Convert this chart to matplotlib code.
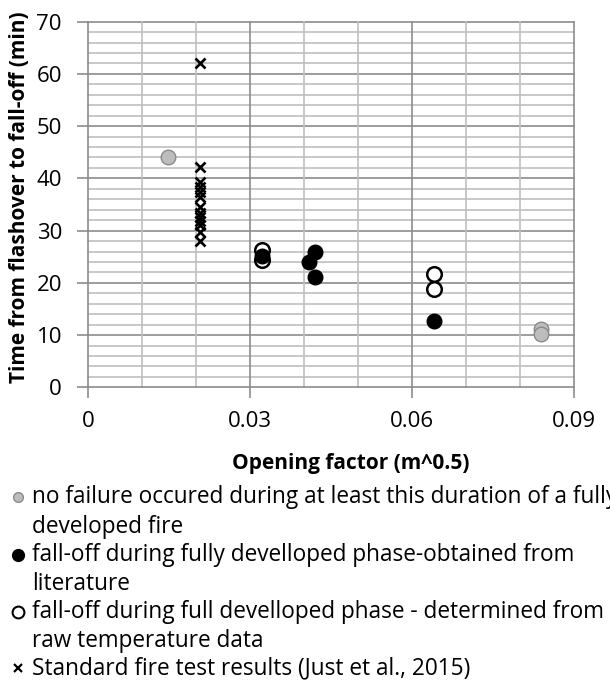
import matplotlib
matplotlib.use('Agg')
import matplotlib.pyplot as plt
from matplotlib.lines import Line2D
from matplotlib.ticker import FixedLocator

plt.rcParams['font.family'] = ['Open Sans', 'DejaVu Sans']

# no failure observed (lower bounds)
nofail_x = [0.0148, 0.0839, 0.0839]
nofail_y = [44.1, 11.1, 10.2]
# fall-off, fully developed phase, from literature
lit_x = [0.0321, 0.0409, 0.0420, 0.0420, 0.0640]
lit_y = [25.1, 24.0, 26.0, 21.1, 12.6]
# fall-off, fully developed phase, from raw temperature data
raw_x = [0.0321, 0.0321, 0.0640, 0.0640]
raw_y = [26.2, 24.4, 21.7, 18.9]
# standard fire tests (Just et al., 2015)
std_x = [0.0206] * 13
std_y = [62.1, 42.1, 39.4, 38.4, 37.4, 36.4, 34.5, 33.4, 32.6, 31.8, 31.0, 29.8, 28.1]

xticks = [0, 0.03, 0.06, 0.09]
xtick_labels = ['0', '0.03', '0.06', '0.09']
yticks = [0, 10, 20, 30, 40, 50, 60, 70]

legend_entries = [
    ('nofail', ['no failure occured during at least this duration of a fully',
                'developed fire']),
    ('lit', ['fall-off during fully develloped phase-obtained from',
             'literature']),
    ('raw', ['fall-off during full develloped phase - determined from',
             'raw temperature data']),
    ('std', ['Standard fire test results (Just et al., 2015)']),
]

major_c = '#8c8c8c'
minor_c = '#bfbfbf'
gray_fill = '#bdbdbd'
gray_edge = '#8a8a8a'

styles = {
    'nofail': dict(marker='o', ls='none', mfc=gray_fill, mec=gray_edge, mew=1.0),
    'lit': dict(marker='o', ls='none', mfc='black', mec='black', mew=1.0),
    'raw': dict(marker='o', ls='none', mfc='white', mec='black', mew=1.8),
    'std': dict(marker='x', ls='none', mec='black', mew=1.9),
}

fig = plt.figure(figsize=(6.1, 6.82), dpi=100)
ax = fig.add_axes([0.1448, 0.4321, 0.7967, 0.5361])

ax.set_xlim(0, 0.09)
ax.set_ylim(0, 70)

# gridlines: light every 2 min / 0.01, darker every 10 min / 0.03
for v in range(2, 72, 2):
    ax.axhline(v, color=major_c if v % 10 == 0 else minor_c, lw=1.2, zorder=0, clip_on=False)
for v in [0.01, 0.02, 0.03, 0.04, 0.05, 0.06, 0.07, 0.08, 0.09]:
    major = abs(v / 0.03 - round(v / 0.03)) < 1e-6
    ax.axvline(v, color=major_c if major else minor_c, lw=1.2, zorder=0, clip_on=False)

ax.plot(nofail_x, nofail_y, ms=10.5, zorder=3, clip_on=False, **styles['nofail'])
ax.plot(raw_x, raw_y, ms=10.5, zorder=3, clip_on=False, **styles['raw'])
ax.plot(lit_x, lit_y, ms=10.5, zorder=4, clip_on=False, **styles['lit'])
ax.plot(std_x, std_y, ms=7.2, zorder=5, clip_on=False, **styles['std'])

for s in ['top', 'right']:
    ax.spines[s].set_visible(False)
for s in ['left', 'bottom']:
    ax.spines[s].set_color(major_c)
    ax.spines[s].set_linewidth(1.2)

ax.xaxis.set_major_locator(FixedLocator(xticks))
ax.set_xticklabels(xtick_labels)
ax.yaxis.set_major_locator(FixedLocator(yticks))
ax.tick_params(axis='both', direction='out', length=8, width=1.2, color=major_c,
               labelsize=16, labelcolor='black')
ax.tick_params(axis='x', pad=9)
ax.tick_params(axis='y', pad=11)

fig.text(20 / 610, 1 - 197 / 682, 'Time from flashover to fall-off (min)',
         rotation=90, ha='center', va='center', fontsize=15, fontweight='bold')
fig.text(351 / 610, 1 - 464 / 682, 'Opening factor (m^0.5)',
         ha='center', va='center', fontsize=15, fontweight='bold')

# hand-built legend below the axes
line_y = [497, 527, 555, 584, 612, 641, 668]
row = 0
small = {'nofail': 7, 'lit': 8.5, 'raw': 8.5, 'std': 5.5}
for key, lines in legend_entries:
    y0 = 1 - line_y[row] / 682
    st = dict(styles[key])
    if key == 'raw':
        st['mew'] = 1.5
    if key == 'std':
        st['mew'] = 1.6
    fig.add_artist(Line2D([18 / 610], [y0], transform=fig.transFigure,
                          ms=small[key], **st))
    for ln in lines:
        fig.text(32 / 610, 1 - line_y[row] / 682, ln, ha='left', va='center',
                 fontsize=16.3)
        row += 1

fig.savefig('out.png', dpi=100)
